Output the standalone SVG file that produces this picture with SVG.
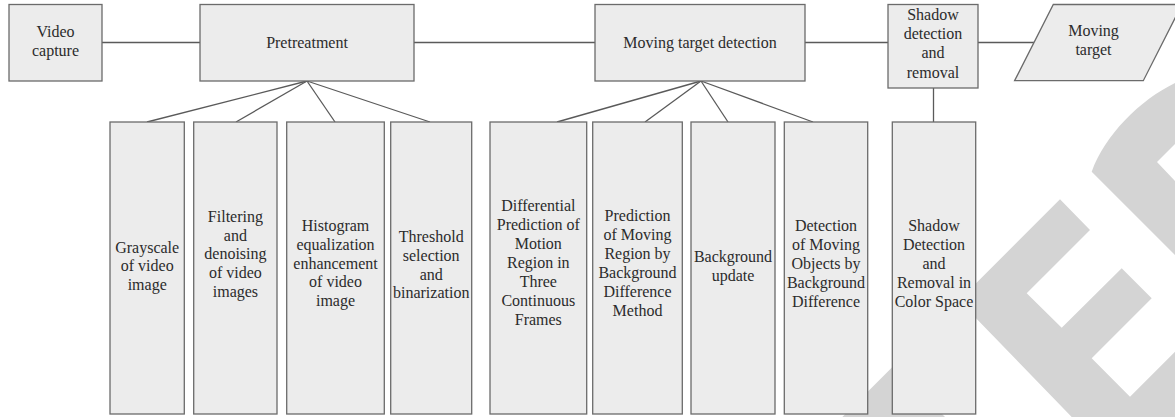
<svg xmlns="http://www.w3.org/2000/svg" width="1175" height="417" viewBox="0 0 1175 417">
  <style>
    .box { fill: #ececec; stroke: #6b6b6b; stroke-width: 1.3; }
    .wire { fill: none; stroke: #5a5a5a; stroke-width: 1.3; }
    .mark { fill: #d4d4d4; }
    .lbl { font-family: 'Liberation Serif', 'DejaVu Serif', serif; font-size: 16px; fill: #2b2b2b; text-anchor: middle; }
  </style>

  <!-- background logo -->
  <g id="logo">
    <path class="mark" d="M1175,83 C1140,100 1105,135 1091.7,171.7 L1175,255 L1175,181 L1157,162 L1175,144 Z"/>
    <path class="mark" d="M958.8,300.5 L1060,199.3 L1090,230 L1026.7,293.3 L1061.7,327.7 L1121.7,268.3 L1151.7,298.3 L1091.7,358.3 L1130,396.7 L1175,351.7 L1175,417 L1071.7,417 Z"/>
    <path class="mark" d="M893.7,365.7 L835,424.4 L952.4,424.4 Z"/>
  </g>

  <!-- connectors -->
  <g id="connectors">
    <line class="wire" x1="102" y1="42.5" x2="200" y2="42.5"/>
    <line class="wire" x1="414" y1="42.5" x2="595" y2="42.5"/>
    <line class="wire" x1="805" y1="42.5" x2="888" y2="42.5"/>
    <line class="wire" x1="978" y1="42.5" x2="1034" y2="42.5"/>
    <line class="wire" x1="933.5" y1="88" x2="933.5" y2="122"/>
    <line class="wire" x1="307" y1="81" x2="147" y2="122"/>
    <line class="wire" x1="307" y1="81" x2="236" y2="122"/>
    <line class="wire" x1="307" y1="81" x2="335" y2="122"/>
    <line class="wire" x1="307" y1="81" x2="430" y2="122"/>
    <line class="wire" x1="701" y1="81" x2="557" y2="122"/>
    <line class="wire" x1="701" y1="81" x2="645" y2="122"/>
    <line class="wire" x1="701" y1="81" x2="728" y2="122"/>
    <line class="wire" x1="701" y1="81" x2="813" y2="122"/>
  </g>

  <g class="lbl" font-family="Liberation Serif, DejaVu Serif, serif">
  <!-- top row -->
  <g id="video-capture">
    <rect class="box" x="9" y="4.5" width="93" height="76.5"/>
    <text x="55.5" y="37">Video</text>
    <text x="55.5" y="56">capture</text>
  </g>
  <g id="pretreatment">
    <rect class="box" x="200" y="4.5" width="214" height="76.5"/>
    <text x="307" y="47.7">Pretreatment</text>
  </g>
  <g id="moving-target-detection">
    <rect class="box" x="595" y="4.5" width="210" height="76.5"/>
    <text x="700" y="47.7">Moving target detection</text>
  </g>
  <g id="shadow-detection">
    <rect class="box" x="888" y="4.5" width="90" height="83.5"/>
    <text x="933" y="20">Shadow</text>
    <text x="933" y="39.2">detection</text>
    <text x="933" y="58.4">and</text>
    <text x="933" y="77.6">removal</text>
  </g>
  <g id="moving-target">
    <polygon class="box" points="1053.3,4.5 1182,4.5 1143.3,80.7 1014.6,80.7"/>
    <text x="1093.5" y="36">Moving</text>
    <text x="1093.5" y="55">target</text>
  </g>

  <!-- pretreatment steps -->
  <g id="grayscale">
    <rect class="box" x="110" y="122" width="74.3" height="292"/>
    <text x="147.2" y="252.5">Grayscale</text>
    <text x="147.2" y="271.3">of video</text>
    <text x="147.2" y="290.1">image</text>
  </g>
  <g id="filtering">
    <rect class="box" x="193.7" y="122" width="83.3" height="292"/>
    <text x="235.4" y="221.7">Filtering</text>
    <text x="235.4" y="240.5">and</text>
    <text x="235.4" y="259.3">denoising</text>
    <text x="235.4" y="278.1">of video</text>
    <text x="235.4" y="296.9">images</text>
  </g>
  <g id="histogram">
    <rect class="box" x="286.7" y="122" width="97.6" height="292"/>
    <text x="335.5" y="230.7">Histogram</text>
    <text x="335.5" y="249.6">equalization</text>
    <text x="335.5" y="268.5">enhancement</text>
    <text x="335.5" y="287.4">of video</text>
    <text x="335.5" y="306.3">image</text>
  </g>
  <g id="threshold">
    <rect class="box" x="390.7" y="122" width="81" height="292"/>
    <text x="431.2" y="241.7">Threshold</text>
    <text x="431.2" y="260.6">selection</text>
    <text x="431.2" y="279.5">and</text>
    <text x="431.2" y="298.4">binarization</text>
  </g>

  <!-- detection methods -->
  <g id="three-frame-difference">
    <rect class="box" x="490" y="122" width="96.7" height="292"/>
    <text x="538.3" y="210.7">Differential</text>
    <text x="538.3" y="229.8">Prediction of</text>
    <text x="538.3" y="248.9">Motion</text>
    <text x="538.3" y="268">Region in</text>
    <text x="538.3" y="287.1">Three</text>
    <text x="538.3" y="306.2">Continuous</text>
    <text x="538.3" y="325.3">Frames</text>
  </g>
  <g id="background-difference-prediction">
    <rect class="box" x="592.7" y="122" width="89.6" height="292"/>
    <text x="637.5" y="221">Prediction</text>
    <text x="637.5" y="240">of Moving</text>
    <text x="637.5" y="259">Region by</text>
    <text x="637.5" y="278">Background</text>
    <text x="637.5" y="297">Difference</text>
    <text x="637.5" y="316">Method</text>
  </g>
  <g id="background-update">
    <rect class="box" x="691" y="122" width="84" height="292"/>
    <text x="733" y="261.7">Background</text>
    <text x="733" y="280.5">update</text>
  </g>
  <g id="background-difference-detection">
    <rect class="box" x="784.3" y="122" width="83.4" height="292"/>
    <text x="826" y="231">Detection</text>
    <text x="826" y="250.1">of Moving</text>
    <text x="826" y="269.2">Objects by</text>
    <text x="826" y="288.3">Background</text>
    <text x="826" y="307.4">Difference</text>
  </g>

  <!-- shadow step -->
  <g id="color-space-shadow">
    <rect class="box" x="892.3" y="122" width="83.4" height="292"/>
    <text x="934" y="230.7">Shadow</text>
    <text x="934" y="249.7">Detection</text>
    <text x="934" y="268.7">and</text>
    <text x="934" y="287.7">Removal in</text>
    <text x="934" y="306.7">Color Space</text>
  </g>
  </g>
</svg>
